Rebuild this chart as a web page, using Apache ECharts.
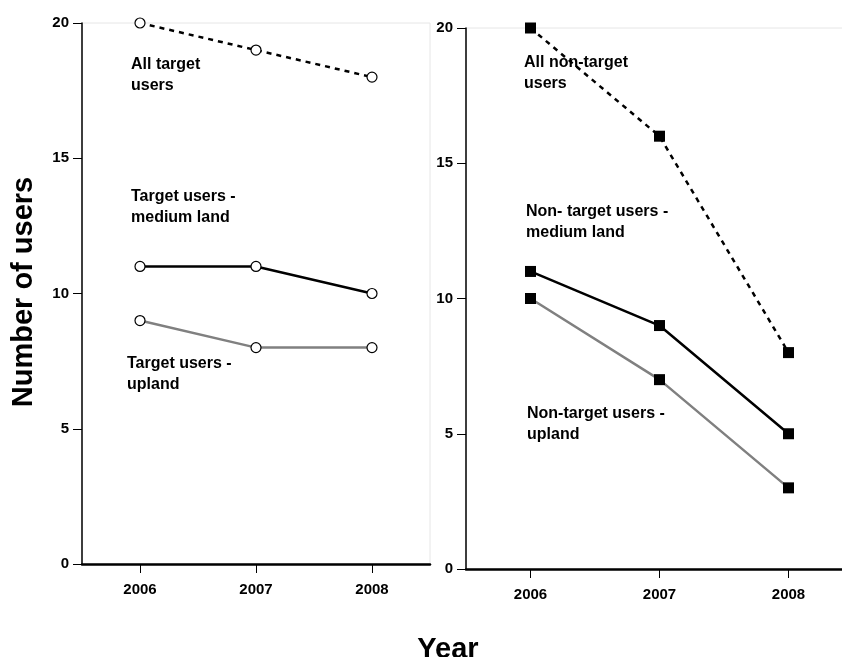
<!DOCTYPE html>
<html>
<head>
<meta charset="utf-8">
<script src="https://cdn.jsdelivr.net/npm/echarts@6/dist/echarts.min.js"></script>
<style>html,body{margin:0;padding:0;background:#fff;}#c{width:842px;height:657px;}</style>
</head>
<body>
<div id="c"></div>
<script>
const years = ['2006', '2007', '2008'];
const yTicks = [0, 5, 10, 15, 20];
// Left panel: target users
const allTarget = [20, 19, 18];
const targetMedium = [11, 11, 10];
const targetUpland = [9, 8, 8];
// Right panel: non-target users
const allNonTarget = [20, 16, 8];
const nonTargetMedium = [11, 9, 5];
const nonTargetUpland = [10, 7, 3];

const FONT = 'Liberation Sans, Arial, sans-serif';
const chart = echarts.init(document.getElementById('c'), null, {renderer: 'canvas'});

function yAxis(gi) {
  return {
    gridIndex: gi, type: 'value', min: yTicks[0], max: yTicks[yTicks.length - 1], interval: 5,
    axisLine: {show: true, lineStyle: {color: '#000', width: 1.5}},
    axisTick: {show: true, length: 9, lineStyle: {color: '#000', width: 1}},
    axisLabel: {color: '#000', fontFamily: FONT, fontWeight: 'bold', fontSize: 15, margin: 13},
    splitLine: {show: false}
  };
}
function xAxis(gi) {
  return {
    gridIndex: gi, type: 'category', data: years, boundaryGap: true,
    axisLine: {show: true, lineStyle: {color: '#000', width: 2.5}},
    axisTick: {show: true, alignWithLabel: true, length: 9, lineStyle: {color: '#000', width: 1}},
    axisLabel: {color: '#000', fontFamily: FONT, fontWeight: 'bold', fontSize: 15, margin: 18},
    splitLine: {show: false}
  };
}
function circleSeries(data, color, dashed) {
  return {
    type: 'line', xAxisIndex: 0, yAxisIndex: 0, data: data,
    symbol: 'circle', symbolSize: 10,
    itemStyle: {color: '#fff', borderColor: '#000', borderWidth: 1.2},
    lineStyle: {color: color, width: 2.5, type: dashed ? [5, 5] : 'solid'},
    z: 3, animation: false
  };
}
function squareSeries(data, color, dashed) {
  return {
    type: 'line', xAxisIndex: 1, yAxisIndex: 1, data: data,
    symbol: 'rect', symbolSize: 11,
    itemStyle: {color: '#000', borderColor: '#000', borderWidth: 0},
    lineStyle: {color: color, width: 2.5, type: dashed ? [5, 5] : 'solid'},
    z: 3, animation: false
  };
}
function label(text, x, y) {
  return {type: 'text', x: x, y: y, style: {text: text, font: 'bold 16px ' + FONT, fill: '#000', lineHeight: 21, textVerticalAlign: 'top'}, z: 10};
}

chart.setOption({
  backgroundColor: '#fff',
  animation: false,
  grid: [
    {left: 82, top: 23, width: 348, height: 541, show: true, borderColor: '#e6e6e6', borderWidth: 1, backgroundColor: 'transparent', outerBoundsMode: 'none', containLabel: false},
    {left: 466, top: 28, width: 387, height: 541, show: true, borderColor: '#e6e6e6', borderWidth: 1, backgroundColor: 'transparent', outerBoundsMode: 'none', containLabel: false}
  ],
  xAxis: [xAxis(0), xAxis(1)],
  yAxis: [yAxis(0), yAxis(1)],
  series: [
    circleSeries(allTarget, '#000', true),
    circleSeries(targetMedium, '#000', false),
    circleSeries(targetUpland, '#808080', false),
    squareSeries(allNonTarget, '#000', true),
    squareSeries(nonTargetMedium, '#000', false),
    squareSeries(nonTargetUpland, '#808080', false)
  ],
  graphic: [
    label('All target\nusers', 131, 54),
    label('Target users -\nmedium land', 131, 186),
    label('Target users -\nupland', 127, 353),
    label('All non-target\nusers', 524, 52),
    label('Non- target users -\nmedium land', 526, 201),
    label('Non-target users -\nupland', 527, 403),
    {type: 'text', x: 24, y: 292, rotation: Math.PI / 2,
     style: {text: 'Number of users', font: 'bold 29px ' + FONT, fill: '#000', textAlign: 'center', textVerticalAlign: 'middle'}},
    {type: 'text', x: 448, y: 650,
     style: {text: 'Year', font: 'bold 29px ' + FONT, fill: '#000', textAlign: 'center', textVerticalAlign: 'middle'}}
  ]
});
</script>
</body>
</html>
